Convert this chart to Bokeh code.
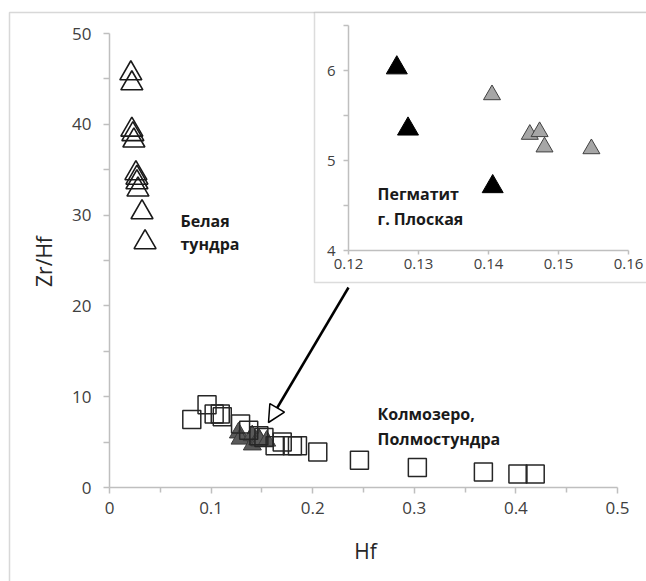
from bokeh.plotting import figure
from bokeh.models import (Range1d, LinearAxis, FixedTicker, NumeralTickFormatter,
                          BoxAnnotation, Label, Arrow, NormalHead)
from bokeh.embed import file_html
from bokeh.resources import INLINE

# ---------------- data ----------------
# Белая тундра (open triangles)
bt_hf = [0.021, 0.022, 0.022, 0.023, 0.024, 0.026, 0.027, 0.027, 0.028, 0.032, 0.035]
bt_zrhf = [45.6, 44.5, 39.4, 38.9, 38.2, 34.6, 34.1, 33.6, 32.8, 30.3, 27.0]

# Колмозеро, Полмостундра (open squares)
kp_hf = [0.081, 0.096, 0.103, 0.109, 0.111, 0.129, 0.137, 0.147, 0.152, 0.163,
         0.170, 0.180, 0.185, 0.205, 0.246, 0.303, 0.368, 0.402, 0.419]
kp_zrhf = [7.5, 9.1, 8.1, 8.1, 7.8, 7.0, 6.3, 5.7, 5.5, 4.6,
           5.0, 4.6, 4.6, 3.9, 3.0, 2.2, 1.7, 1.5, 1.5]

# Пегматит г. Плоская (inset): black and grey triangles
pb_hf = [0.1269, 0.1285, 0.1406]
pb_zrhf = [6.03, 5.35, 4.71]
pg_hf = [0.1405, 0.1459, 0.1473, 0.1480, 0.1547]
pg_zrhf = [5.73, 5.29, 5.32, 5.15, 5.13]

# ticks
main_x_ticks = [0, 0.1, 0.2, 0.3, 0.4, 0.5]
main_x_minor = [0.05, 0.15, 0.25, 0.35, 0.45]
main_y_ticks = [0, 10, 20, 30, 40, 50]
main_y_minor = [5, 15, 25, 35, 45]
inset_x_ticks = [0.12, 0.13, 0.14, 0.15, 0.16]
inset_y_ticks = [4, 5, 6]
inset_y_minor = [4.5, 5.5, 6.5]

# ---------------- layout constants (pixels) ----------------
W, H = 646, 581
X0_PX, X_PX_PER = 109, 1016.0      # main: Hf=0 at px 109
Y0_PX, Y_PX_PER = 487, 9.08        # main: Zr/Hf=0 at px 487 (from top)
IX0_PX, IX_PX_PER = 348, 7000.0    # inset: Hf=0.12 at px 348
IY0_PX, IY_PX_PER = 250, 90.0      # inset: Zr/Hf=4 at px 250

FONT = "Open Sans"
AX_COL = "#bfbfbf"
TXT_COL = "#404040"

p = figure(width=W, height=H,
           x_range=Range1d(-X0_PX / X_PX_PER, (W - X0_PX) / X_PX_PER),
           y_range=Range1d(-(H - Y0_PX) / Y_PX_PER, Y0_PX / Y_PX_PER),
           x_axis_type=None, y_axis_type=None,
           output_backend="svg", toolbar_location=None, min_border=0)
p.outline_line_color = None
p.background_fill_color = "white"
p.border_fill_color = "white"

p.extra_x_ranges = {"ix": Range1d(0.12 - IX0_PX / IX_PX_PER, 0.12 + (W - IX0_PX) / IX_PX_PER)}
p.extra_y_ranges = {"iy": Range1d(4 - (H - IY0_PX) / IY_PX_PER, 4 + IY0_PX / IY_PX_PER)}

# outer frame (left and top edge of the picture)
p.add_layout(BoxAnnotation(left=-(X0_PX - 9) / X_PX_PER, right=0.6,
                           top=(Y0_PX - 12) / Y_PX_PER, bottom=-20,
                           fill_color=None, line_color="#7f7f7f", line_width=1.5,
                           level="underlay"))
# inset box
p.add_layout(BoxAnnotation(left=0.12 - (IX0_PX - 314) / IX_PX_PER, right=0.2,
                           top=4 + (IY0_PX - 12) / IY_PX_PER,
                           bottom=4 - (282 - IY0_PX) / IY_PX_PER,
                           x_range_name="ix", y_range_name="iy",
                           fill_color="white", fill_alpha=1.0,
                           line_color="#8c8c8c", line_width=1.5, level="underlay"))


def style_axis(ax, size):
    ax.axis_line_color = AX_COL
    ax.axis_line_width = 1.5
    ax.major_tick_line_color = AX_COL
    ax.minor_tick_line_color = AX_COL
    ax.major_tick_line_width = 1.5
    ax.minor_tick_line_width = 1.5
    ax.major_tick_in = 0
    ax.minor_tick_in = 0
    ax.major_label_text_font = FONT
    ax.major_label_text_font_size = f"{size}px"
    ax.major_label_text_color = TXT_COL


# main axes
xax = LinearAxis(fixed_location=0, bounds=(0, 0.5),
                 ticker=FixedTicker(ticks=main_x_ticks, minor_ticks=main_x_minor),
                 formatter=NumeralTickFormatter(format="0.[0]"))
style_axis(xax, 17)
xax.major_tick_out = 6
xax.minor_tick_out = 5
xax.major_label_standoff = 8
p.add_layout(xax, "below")

yax = LinearAxis(fixed_location=0, bounds=(0, 50),
                 ticker=FixedTicker(ticks=main_y_ticks, minor_ticks=main_y_minor),
                 formatter=NumeralTickFormatter(format="0"))
style_axis(yax, 17)
yax.major_tick_out = 6
yax.minor_tick_out = 6
yax.major_label_standoff = 12
p.add_layout(yax, "left")

# inset axes
ixax = LinearAxis(fixed_location=4, bounds=(0.12, 0.16), x_range_name="ix", y_range_name="iy",
                  ticker=FixedTicker(ticks=inset_x_ticks, minor_ticks=[]),
                  formatter=NumeralTickFormatter(format="0.[00]"))
style_axis(ixax, 15)
ixax.major_tick_out = 4
ixax.major_label_standoff = 4
p.add_layout(ixax, "below")

iyax = LinearAxis(fixed_location=0.12, bounds=(4, 6.5), x_range_name="ix", y_range_name="iy",
                  ticker=FixedTicker(ticks=inset_y_ticks, minor_ticks=inset_y_minor),
                  formatter=NumeralTickFormatter(format="0"))
style_axis(iyax, 15)
iyax.major_tick_out = 5
iyax.minor_tick_out = 5
iyax.major_label_standoff = 8
p.add_layout(iyax, "left")

# ---------------- main points ----------------
p.scatter(bt_hf, bt_zrhf, marker="triangle", size=22, fill_color=None,
          line_color="#1a1a1a", line_width=1.6)
p.scatter(pb_hf + pg_hf, pb_zrhf + pg_zrhf, marker="triangle", size=18,
          fill_color="#595959", line_color="#3a3a3a", line_width=1)
p.scatter(kp_hf, kp_zrhf, marker="square", size=18, fill_color=None,
          line_color="#262626", line_width=1.5)

# ---------------- inset points ----------------
p.scatter(pg_hf, pg_zrhf, marker="triangle", size=17, fill_color="#a6a6a6",
          line_color="#404040", line_width=1, x_range_name="ix", y_range_name="iy")
p.scatter(pb_hf, pb_zrhf, marker="triangle", size=21, fill_color="black",
          line_color="black", line_width=1, x_range_name="ix", y_range_name="iy")

# ---------------- arrow ----------------
arrow_start = ((348 - X0_PX) / X_PX_PER, (Y0_PX - 287) / Y_PX_PER)
arrow_end = ((268 - X0_PX) / X_PX_PER, (Y0_PX - 422) / Y_PX_PER)
p.add_layout(Arrow(x_start=arrow_start[0], y_start=arrow_start[1],
                   x_end=arrow_end[0], y_end=arrow_end[1],
                   line_color="black", line_width=2.5,
                   end=NormalHead(size=17, fill_color="white", line_color="black",
                                  line_width=1.5)))

# ---------------- texts ----------------
def add_text(text, x, y, size, bold=False, align="left", angle=0.0, xr="default", yr="default",
             color="#1a1a1a"):
    p.add_layout(Label(x=x, y=y, text=text, text_font=FONT, text_font_size=f"{size}px",
                       text_font_style="bold" if bold else "normal",
                       text_color=color,
                       text_align=align, text_baseline="middle", angle=angle,
                       x_range_name=xr, y_range_name=yr))


def mx(px):
    return (px - X0_PX) / X_PX_PER


def my(py):
    return (Y0_PX - py) / Y_PX_PER


def ix(px):
    return 0.12 + (px - IX0_PX) / IX_PX_PER


def iy(py):
    return 4 + (IY0_PX - py) / IY_PX_PER


add_text("Белая", mx(180), my(220), 16, bold=True)
add_text("тундра", mx(180), my(243), 16, bold=True)
add_text("Колмозеро,", mx(377), my(413), 16, bold=True)
add_text("Полмостундра", mx(377), my(438), 16, bold=True)
add_text("Пегматит", ix(377), iy(193), 16, bold=True, xr="ix", yr="iy")
add_text("г. Плоская", ix(377), iy(218), 16, bold=True, xr="ix", yr="iy")
add_text("Hf", mx(365), my(550), 21, align="center", color="#262626")
add_text("Zr/Hf", mx(43), my(261), 21, align="center", angle=1.5707963, color="#262626")

open("out.html", "w").write(file_html(p, INLINE))
